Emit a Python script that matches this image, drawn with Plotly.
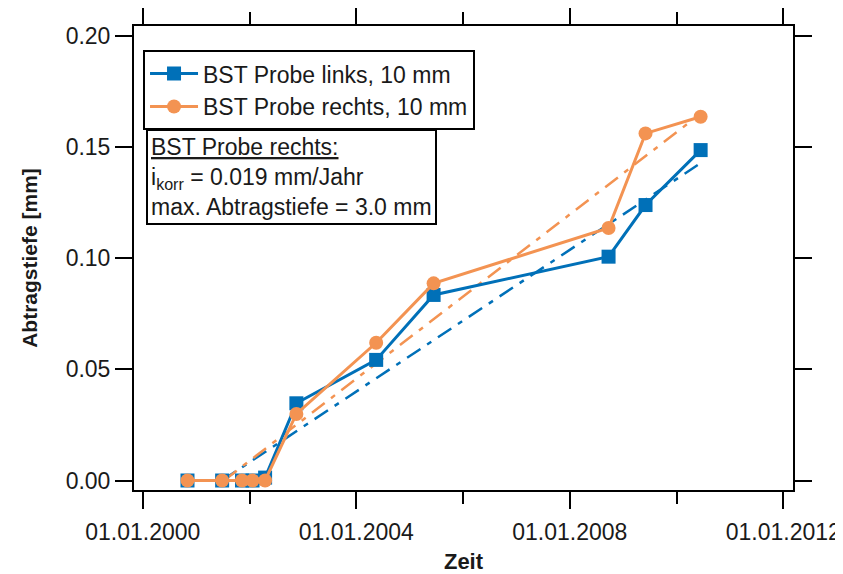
import plotly.graph_objects as go

# --- data ---
dates = ["2000-11-02", "2001-06-27", "2001-11-10", "2002-01-21", "2002-04-17",
         "2002-11-17", "2004-05-16", "2005-06-13", "2008-09-22", "2009-06-02",
         "2010-06-14"]
links_mm = [0.0, 0.0, 0.0, 0.0, 0.0013, 0.0347, 0.0542, 0.0834, 0.1006, 0.1238, 0.1485]
rechts_mm = [0.0, 0.0, 0.0, 0.0, 0.0, 0.0299, 0.0619, 0.0886, 0.1135, 0.1560, 0.1635]

trend_links_dates = ["2001-06-27", "2010-05-25"]
trend_links_mm = [0.0, 0.1418]
trend_rechts_dates = ["2001-07-10", "2010-03-20"]
trend_rechts_mm = [0.0, 0.1605]

name_links = "BST Probe links, 10 mm"
name_rechts = "BST Probe rechts, 10 mm"
box_text = ("<u>BST Probe rechts:</u><br>i<sub>korr</sub> = 0.019 mm/Jahr"
            "<br>max. Abtragstiefe = 3.0 mm")

BLUE = "#0070B8"
ORANGE = "#F39352"
FONT = "Liberation Sans, Arial, sans-serif"

fig = go.Figure()
fig.add_trace(go.Scatter(x=trend_links_dates, y=trend_links_mm, mode="lines",
                         line=dict(color=BLUE, width=2.5, dash="16px,8px,5px,8px"),
                         showlegend=False, hoverinfo="skip"))
fig.add_trace(go.Scatter(x=trend_rechts_dates, y=trend_rechts_mm, mode="lines",
                         line=dict(color=ORANGE, width=2.5, dash="16px,8px,5px,8px"),
                         showlegend=False, hoverinfo="skip"))
fig.add_trace(go.Scatter(x=dates, y=links_mm, mode="lines+markers", name=name_links,
                         line=dict(color=BLUE, width=3),
                         marker=dict(symbol="square", size=14, color=BLUE)))
fig.add_trace(go.Scatter(x=dates, y=rechts_mm, mode="lines+markers", name=name_rechts,
                         line=dict(color=ORANGE, width=3),
                         marker=dict(symbol="circle", size=14, color=ORANGE)))

axis_common = dict(showline=True, linecolor="black", linewidth=2, mirror="ticks",
                   ticks="outside", tickcolor="black", tickwidth=2, ticklen=17,
                   showgrid=False, zeroline=False, automargin=False,
                   tickfont=dict(family=FONT, size=23, color="#1a1a1a"))

fig.update_xaxes(type="date", range=["1999-11-02", "2012-03-07"],
                 tick0="2000-01-01", dtick="M48", tickformat="%d.%m.%Y",
                 ticklabelstandoff=3,
                 minor=dict(dtick="M24", tick0="2000-01-01", ticks="outside",
                            ticklen=12, tickwidth=2, tickcolor="black", showgrid=False),
                 title=dict(text="<b>Zeit</b>", font=dict(family=FONT, size=22, color="#1a1a1a"),
                            standoff=14),
                 **axis_common)
fig.update_yaxes(range=[-0.00427, 0.20427], dtick=0.05, tick0=0, tickformat=".2f",
                 title=dict(text="<b>Abtragstiefe [mm]</b>",
                            font=dict(family=FONT, size=21, color="#1a1a1a"), standoff=22),
                 **axis_common)

fig.update_layout(
    width=835, height=566,
    margin=dict(l=126, r=50, t=18, b=84),
    paper_bgcolor="white", plot_bgcolor="white",
    font=dict(family=FONT, size=23, color="#1a1a1a"),
    legend=dict(x=0.0137, y=0.948, xanchor="left", yanchor="top",
                bordercolor="black", borderwidth=2, bgcolor="white",
                font=dict(family=FONT, size=23, color="#1a1a1a"),
                itemwidth=48, tracegroupgap=0),
    annotations=[dict(text=box_text, xref="paper", yref="paper", x=0.0182, y=0.777,
                      xanchor="left", yanchor="top", align="left", showarrow=False,
                      bordercolor="black", borderwidth=2, borderpad=3, bgcolor="white",
                      font=dict(family=FONT, size=23, color="#1a1a1a"))],
)

fig.write_html("out.html")
